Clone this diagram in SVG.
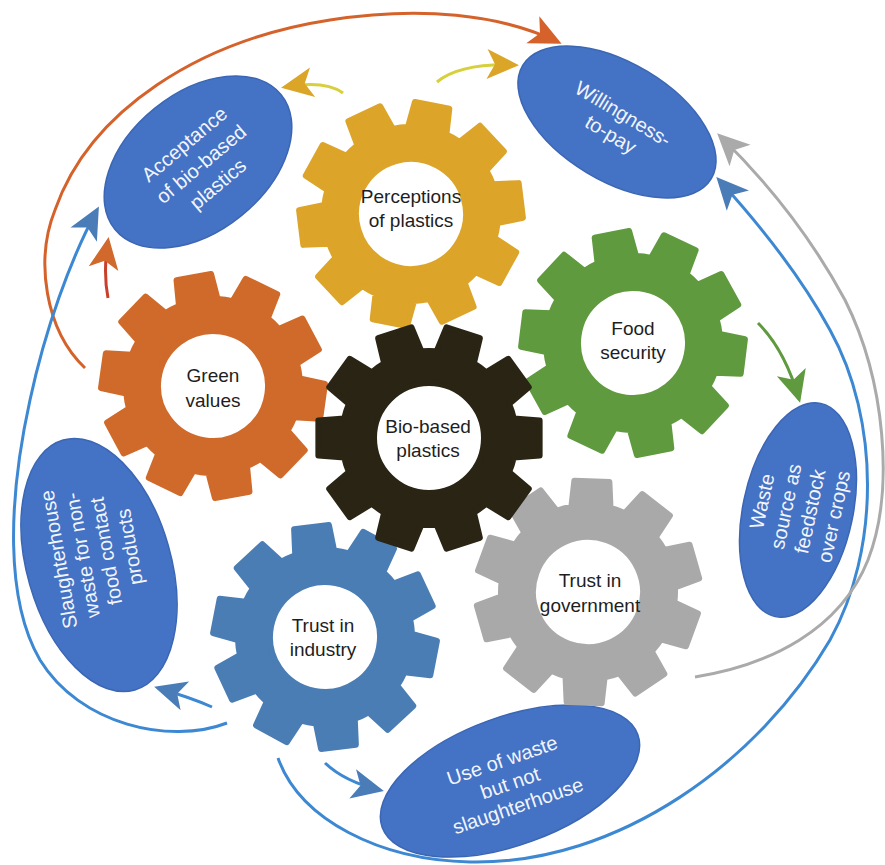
<svg xmlns="http://www.w3.org/2000/svg" width="885" height="865" viewBox="0 0 885 865">
  <style>
    .gear { stroke-width: 6; stroke-linejoin: round; fill-rule: evenodd; }
    .gtxt { font-family: "Liberation Sans", Arial, sans-serif; font-size: 19px; fill: #1e1e1e; text-anchor: middle; }
    .etxt { font-family: "Liberation Sans", Arial, sans-serif; font-size: 20px; fill: #f2f5fb; text-anchor: middle; }
    .bubble { fill: #4472C4; stroke: #3B66B4; stroke-width: 1.5; }
    .conn path { fill: none; stroke-width: 3; }
  </style>
  <defs>
    <!-- ten-tooth gear with a round hole, centred on the origin -->
    <path id="gear" d="M84.77,-19.57 L110.62,-17.52 L110.62,17.52 L84.77,19.57 A87,87 0 0 1 80.08,33.99 L99.79,50.85 L79.2,79.2 L57.08,65.66 A87,87 0 0 1 44.81,74.57 L50.85,99.79 L17.52,110.62 L7.58,86.67 A87,87 0 0 1 -7.58,86.67 L-17.52,110.62 L-50.85,99.79 L-44.81,74.57 A87,87 0 0 1 -57.08,65.66 L-79.2,79.2 L-99.79,50.85 L-80.08,33.99 A87,87 0 0 1 -84.77,19.57 L-110.62,17.52 L-110.62,-17.52 L-84.77,-19.57 A87,87 0 0 1 -80.08,-33.99 L-99.79,-50.85 L-79.2,-79.2 L-57.08,-65.66 A87,87 0 0 1 -44.81,-74.57 L-50.85,-99.79 L-17.52,-110.62 L-7.58,-86.67 A87,87 0 0 1 7.58,-86.67 L17.52,-110.62 L50.85,-99.79 L44.81,-74.57 A87,87 0 0 1 57.08,-65.66 L79.2,-79.2 L99.79,-50.85 L80.08,-33.99 A87,87 0 0 1 84.77,-19.57 Z M55,0 A55,55 0 1 0 -55,0 A55,55 0 1 0 55,0 Z"/>
    <!-- stealth arrowheads, one per connector colour -->
    <marker id="hOrange" markerUnits="userSpaceOnUse" markerWidth="40" markerHeight="34" viewBox="-32 -17 40 34" refX="0" refY="0" orient="auto">
      <path d="M4,0 L-28,-15 L-20,0 L-28,15 Z" fill="#D5622A"/>
    </marker>
    <marker id="hRust" markerUnits="userSpaceOnUse" markerWidth="40" markerHeight="34" viewBox="-32 -17 40 34" refX="0" refY="0" orient="auto">
      <path d="M4,0 L-28,-15 L-20,0 L-28,15 Z" fill="#D0692B"/>
    </marker>
    <marker id="hGold" markerUnits="userSpaceOnUse" markerWidth="40" markerHeight="34" viewBox="-32 -17 40 34" refX="0" refY="0" orient="auto">
      <path d="M4,0 L-28,-15 L-20,0 L-28,15 Z" fill="#DBA527"/>
    </marker>
    <marker id="hBlue" markerUnits="userSpaceOnUse" markerWidth="40" markerHeight="34" viewBox="-32 -17 40 34" refX="0" refY="0" orient="auto">
      <path d="M4,0 L-28,-15 L-20,0 L-28,15 Z" fill="#4A7DB8"/>
    </marker>
    <marker id="hGrey" markerUnits="userSpaceOnUse" markerWidth="40" markerHeight="34" viewBox="-32 -17 40 34" refX="0" refY="0" orient="auto">
      <path d="M4,0 L-28,-15 L-20,0 L-28,15 Z" fill="#AAAAAA"/>
    </marker>
    <marker id="hGreen" markerUnits="userSpaceOnUse" markerWidth="40" markerHeight="34" viewBox="-32 -17 40 34" refX="0" refY="0" orient="auto">
      <path d="M4,0 L-28,-15 L-20,0 L-28,15 Z" fill="#5F9A3F"/>
    </marker>
  </defs>

  <rect width="885" height="865" fill="#ffffff"/>

  <!-- outcome bubbles -->
  <g id="acceptance">
    <ellipse class="bubble" cx="198" cy="162" rx="107" ry="69" transform="rotate(-39 198 162)"/>
    <g transform="translate(201,164) rotate(-40)">
      <text class="etxt" x="0" y="-19">Acceptance</text>
      <text class="etxt" x="0" y="7">of bio-based</text>
      <text class="etxt" x="0" y="33">plastics</text>
    </g>
  </g>
  <g id="willingness">
    <ellipse class="bubble" cx="617" cy="122" rx="110" ry="59" transform="rotate(31 617 122)"/>
    <g transform="translate(617,124) rotate(31)">
      <text class="etxt" x="0" y="-5">Willingness-</text>
      <text class="etxt" x="0" y="19">to-pay</text>
    </g>
  </g>
  <g id="waste-source">
    <ellipse class="bubble" cx="798" cy="510" rx="55" ry="109" transform="rotate(12 798 510)"/>
    <g transform="translate(798,509) rotate(-78)">
      <text class="etxt" x="0" y="-30">Waste</text>
      <text class="etxt" x="0" y="-5.5">source as</text>
      <text class="etxt" x="0" y="19">feedstock</text>
      <text class="etxt" x="0" y="43.5">over crops</text>
    </g>
  </g>
  <g id="slaughterhouse">
    <ellipse class="bubble" cx="99" cy="565" rx="72" ry="130" transform="rotate(-16 99 565)"/>
    <g transform="translate(95,553) rotate(-100)">
      <text class="etxt" x="0" y="-30">Slaughterhouse</text>
      <text class="etxt" x="0" y="-6">waste for non-</text>
      <text class="etxt" x="0" y="18">food contact</text>
      <text class="etxt" x="0" y="42">products</text>
    </g>
  </g>
  <g id="use-of-waste">
    <ellipse class="bubble" cx="510" cy="781" rx="136" ry="64" transform="rotate(-20 510 781)"/>
    <g transform="translate(510,783) rotate(-19)">
      <text class="etxt" x="0" y="-17">Use of waste</text>
      <text class="etxt" x="0" y="7">but not</text>
      <text class="etxt" x="0" y="31">slaughterhouse</text>
    </g>
  </g>

  <!-- gears -->
  <g id="perceptions">
    <use href="#gear" class="gear" fill="#DCA428" stroke="#DCA428" transform="translate(411,214) rotate(29)"/>
    <text class="gtxt" x="411" y="203">Perceptions</text>
    <text class="gtxt" x="411" y="227">of plastics</text>
  </g>
  <g id="green-values">
    <use href="#gear" class="gear" fill="#CF6A2B" stroke="#CF6A2B" transform="translate(213,386) rotate(8)"/>
    <text class="gtxt" x="213" y="382">Green</text>
    <text class="gtxt" x="213" y="407">values</text>
  </g>
  <g id="food-security">
    <use href="#gear" class="gear" fill="#5F9A3F" stroke="#5F9A3F" transform="translate(633,343) rotate(7)"/>
    <text class="gtxt" x="633" y="335">Food</text>
    <text class="gtxt" x="633" y="359">security</text>
  </g>
  <g id="trust-government">
    <use href="#gear" class="gear" fill="#A9A9A9" stroke="#A9A9A9" transform="translate(588,592) rotate(20)"/>
    <text class="gtxt" x="590" y="587">Trust in</text>
    <text class="gtxt" x="590" y="612">government</text>
  </g>
  <g id="trust-industry">
    <use href="#gear" class="gear" fill="#4A7DB4" stroke="#4A7DB4" transform="translate(325,637) rotate(11)"/>
    <text class="gtxt" x="323" y="632">Trust in</text>
    <text class="gtxt" x="323" y="656">industry</text>
  </g>
  <g id="bio-based">
    <use href="#gear" class="gear" fill="#2A2414" stroke="#2A2414" transform="translate(429,438) rotate(0)"/>
    <text class="gtxt" x="428" y="433">Bio-based</text>
    <text class="gtxt" x="428" y="457">plastics</text>
  </g>

  <!-- connectors -->
  <g class="conn" id="connectors">
    <path d="M85,368 C45,330 35,260 55,210 C90,110 200,40 330,20 C420,6 500,14 558,42" stroke="#D5622A" marker-end="url(#hOrange)"/>
    <path d="M108,298 Q103,272 108,241" stroke="#C8402A" marker-end="url(#hRust)"/>
    <path d="M227,723 C170,745 80,725 40,660 C5,600 8,500 30,400 C45,330 70,260 97,210" stroke="#3D88D2" marker-end="url(#hBlue)"/>
    <path d="M278,758 C300,820 380,860 470,862 C620,865 760,760 830,640 C880,550 880,420 830,330 C800,275 760,225 719,180" stroke="#3D88D2" marker-end="url(#hBlue)"/>
    <path d="M695,677 C770,665 840,630 868,560 C895,490 885,380 845,300 C810,235 765,180 720,136" stroke="#AAAAAA" marker-end="url(#hGrey)"/>
    <path d="M212,707 Q192,698 158,688" stroke="#3D88D2" marker-end="url(#hBlue)"/>
    <path d="M325,763 Q345,782 380,790" stroke="#3D88D2" marker-end="url(#hBlue)"/>
    <path d="M343,93 Q325,80 285,87" stroke="#D6D03A" marker-end="url(#hGold)"/>
    <path d="M437,82 Q460,63 515,65" stroke="#D6D03A" marker-end="url(#hGold)"/>
    <path d="M758,323 Q785,350 799,399" stroke="#5F9A3F" marker-end="url(#hGreen)"/>
  </g>
</svg>
